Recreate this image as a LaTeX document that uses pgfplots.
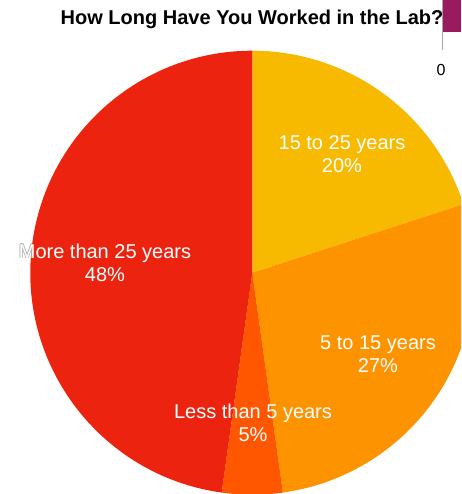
\documentclass[border=0pt]{standalone}
\usepackage{pgfplots}
\pgfplotsset{compat=1.18}
\usepackage{fontspec}
\setmainfont{Liberation Sans}
\definecolor{cyellow}{HTML}{F7BA00}
\definecolor{corange}{HTML}{FE9300}
\definecolor{cdark}{HTML}{FE5700}
\definecolor{cred}{HTML}{EC230F}
\definecolor{cpurple}{HTML}{9A1A60}
% slice shares (percent), clockwise from 12 o'clock
\def\pA{20}   % 15 to 25 years
\def\pB{27.8} % 5 to 15 years
\def\pC{4.4}  % Less than 5 years
\def\pD{47.8} % More than 25 years
\pgfmathsetmacro\aA{90}
\pgfmathsetmacro\aB{\aA-3.6*\pA}
\pgfmathsetmacro\aC{\aB-3.6*\pB}
\pgfmathsetmacro\aD{\aC-3.6*\pC}
\pgfmathsetmacro\aE{\aD-3.6*\pD}
\tikzset{lbl/.style={align=center, font=\fontsize{20}{23}\selectfont},
  halo/.style={lbl, text=gray!60}}
\begin{document}
\begin{tikzpicture}
\begin{axis}[name=ax, at={(0,0)}, anchor=south west, scale only axis,
  width=461pt, height=494pt, xmin=0, xmax=461, ymin=0, ymax=494,
  hide axis, clip=true]
\fill[cyellow] (axis cs:252.3,221.3) -- ++(\aA:222pt) arc[start angle=\aA, end angle=\aB, radius=222pt] -- cycle;
\fill[corange] (axis cs:252.3,221.3) -- ++(\aB:222pt) arc[start angle=\aB, end angle=\aC, radius=222pt] -- cycle;
\fill[cdark] (axis cs:252.3,221.3) -- ++(\aC:222pt) arc[start angle=\aC, end angle=\aD, radius=222pt] -- cycle;
\fill[cred] (axis cs:252.3,221.3) -- ++(\aD:222pt) arc[start angle=\aD, end angle=\aE, radius=222pt] -- cycle;
\begin{scope}
\clip (axis cs:0,200) rectangle (axis cs:31,260);
\node[halo] at (axis cs:104.4,231.5) {More than 25 years\\48\%};
\node[halo] at (axis cs:105.6,231.5) {More than 25 years\\48\%};
\node[halo] at (axis cs:105,232.1) {More than 25 years\\48\%};
\node[halo] at (axis cs:105,230.9) {More than 25 years\\48\%};
\node[halo] at (axis cs:104.55,231.95) {More than 25 years\\48\%};
\node[halo] at (axis cs:105.45,231.95) {More than 25 years\\48\%};
\node[halo] at (axis cs:104.55,231.05) {More than 25 years\\48\%};
\node[halo] at (axis cs:105.45,231.05) {More than 25 years\\48\%};
\end{scope}
\node[lbl, text=white] at (axis cs:342,339.5) {15 to 25 years\\20\%};
\node[lbl, text=white] at (axis cs:105,231.5) {More than 25 years\\48\%};
\node[lbl, text=white] at (axis cs:378,139.5) {5 to 15 years\\27\%};
\node[lbl, text=white] at (axis cs:253,71.5) {Less than 5 years\\5\%};
\node[font=\fontsize{20}{22}\bfseries\selectfont] at (axis cs:252,474.5) {How Long Have You Worked in the Lab?};
\fill[cpurple] (axis cs:443,494) rectangle (axis cs:461,462);
\draw[gray!70, line width=0.8pt] (axis cs:442.5,494) -- (axis cs:442.5,444);
\node[font=\fontsize{16}{18}\selectfont] at (axis cs:441,424) {0};
\end{axis}
\pgfresetboundingbox
\path[use as bounding box] (ax.south west) rectangle (ax.north east);
\end{tikzpicture}
\end{document}
